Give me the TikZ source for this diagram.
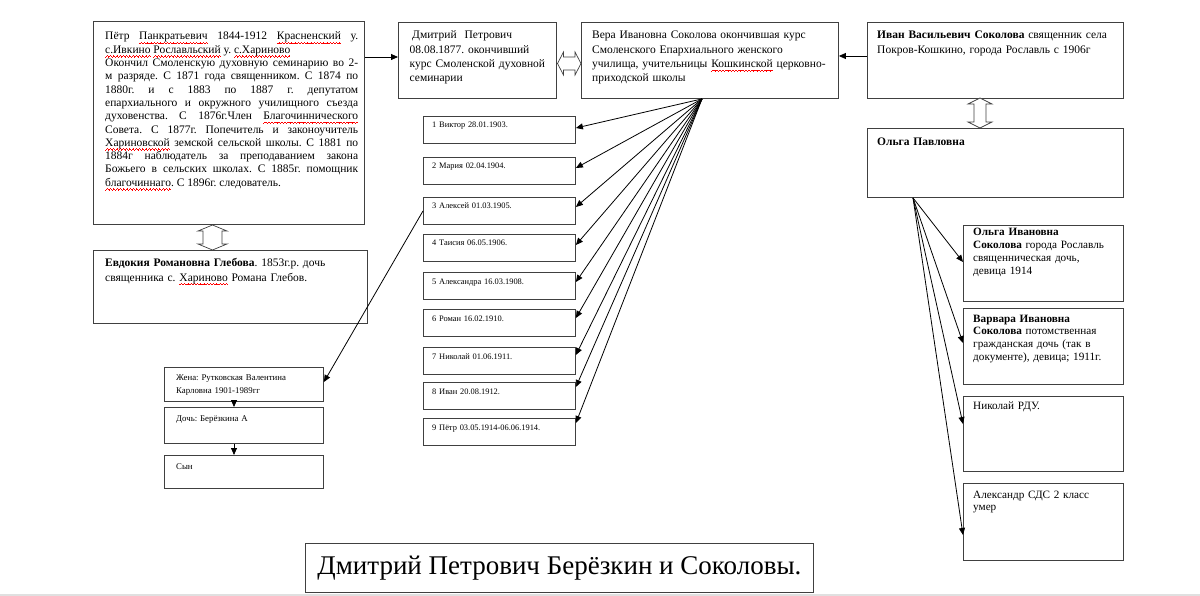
\documentclass[tikz,border=0pt]{standalone}
\usepackage{fontspec}
\setmainfont{Liberation Serif}
\usetikzlibrary{arrows.meta,calc}
\frenchspacing
\newcommand\wavebit{\hbox{\rule[-3.9pt]{0.8pt}{0.6pt}\rule[-3.3pt]{0.8pt}{0.6pt}\rule[-2.7pt]{0.8pt}{0.6pt}\rule[-3.3pt]{0.8pt}{0.6pt}}}
\newcommand\spk[1]{\leavevmode\setbox0\hbox{#1}\rlap{\hbox to \wd0{\color{red}\xleaders\wavebit\hfill}}\box0\relax}
\begin{document}
\begin{tikzpicture}[x=1pt,y=-1pt,
  box/.style={draw=black!75, line width=0.9pt, anchor=north west, inner sep=0pt},
  txt/.style={anchor=base west, inner sep=0pt, align=left},
  big/.style={font=\fontsize{11.5}{13.3}\selectfont},
  mid/.style={font=\fontsize{11.5}{14.3}\selectfont},
  rcol/.style={font=\fontsize{11.2}{12.8}\selectfont},
  small/.style={font=\fontsize{8.4}{10}\selectfont},
  wife/.style={font=\fontsize{8.8}{13}\selectfont},
  arr/.style={-{Triangle[length=7pt,width=6pt]}, line width=0.8pt},
  hol/.style={draw=black!75, fill=white, line width=0.7pt, line join=miter}]
\useasboundingbox (0,0) rectangle (1200,596);
\draw[black!12, line width=1.5pt] (0,595.2) -- (1200,595.2);

% ---- boxes ----
\node[box, minimum width=271pt, minimum height=203pt] (p) at (93,21) {};
\node[box, minimum width=274pt, minimum height=73pt] (e) at (93,250) {};
\node[box, minimum width=158pt, minimum height=76pt] (d) at (398,22) {};
\node[box, minimum width=257pt, minimum height=76pt] (v) at (581,22) {};
\node[box, minimum width=256pt, minimum height=76pt] (iv) at (867,22) {};
\node[box, minimum width=256pt, minimum height=69pt] (op) at (867,128) {};

\node[box, minimum width=152pt, minimum height=27pt] (c1) at (423,116) {};
\node[box, minimum width=152pt, minimum height=27pt] (c2) at (423,157) {};
\node[box, minimum width=152pt, minimum height=27pt] (c3) at (423,197) {};
\node[box, minimum width=152pt, minimum height=27pt] (c4) at (423,234) {};
\node[box, minimum width=152pt, minimum height=27pt] (c5) at (423,272) {};
\node[box, minimum width=152pt, minimum height=27pt] (c6) at (423,309) {};
\node[box, minimum width=152pt, minimum height=27pt] (c7) at (423,347) {};
\node[box, minimum width=152pt, minimum height=27pt] (c8) at (423,382) {};
\node[box, minimum width=152pt, minimum height=27pt] (c9) at (423,418) {};

\node[box, minimum width=159pt, minimum height=34pt] (w) at (164,367) {};
\node[box, minimum width=159pt, minimum height=36pt] (da) at (164,407) {};
\node[box, minimum width=159pt, minimum height=33pt] (so) at (164,455) {};

\node[box, minimum width=160pt, minimum height=76pt] (oi) at (963,225) {};
\node[box, minimum width=160pt, minimum height=76pt] (vi) at (963,308) {};
\node[box, minimum width=160pt, minimum height=75pt] (ni) at (963,396) {};
\node[box, minimum width=160pt, minimum height=77pt] (ai) at (963,483) {};

\node[box, minimum width=508pt, minimum height=49pt] (t) at (305,543) {};

% ---- texts ----
\node[txt, big, text width=253pt, align=justify] (pt) at (105,40) {%
Пётр \spk{Панкратьевич} 1844-1912 \spk{Красненский} у.\linebreak
\spk{с.Ивкино} \spk{Рославльский} у. \spk{с.Хариново}\\
Окончил Смоленскую духовную семинарию во 2-\linebreak
м разряде. С 1871 года священником. С 1874 по\linebreak
1880г. и с 1883 по 1887 г. депутатом\linebreak
епархиального и окружного училищного съезда\linebreak
духовенства. С 1876г.Член \spk{Благочиннического}\linebreak
Совета. С 1877г. Попечитель и законоучитель\linebreak
\spk{Хариновской} земской сельской школы. С 1881 по\linebreak
1884г наблюдатель за преподаванием закона\linebreak
Божьего в сельских школах. С 1885г. помощник\linebreak
\spk{благочиннаго}. С 1896г. следователь.};

\node[txt, big, text width=260pt, font=\fontsize{11.5}{14}\selectfont] (et) at (105,267) {%
\textbf{Евдокия Романовна Глебова}. 1853г.р. дочь\\
священника с. \spk{Хариново} Романа Глебов.};

\node[txt, mid, text width=145pt] (dt) at (409.5,39) {%
\hspace{2.5pt}Дмитрий\hspace{8pt}Петрович\\
08.08.1877. окончивший\\
курс Смоленской духовной\\
семинарии};

\node[txt, mid, text width=245pt] (vt) at (592,39) {%
Вера Ивановна Соколова окончившая курс\\
Смоленского Епархиального женского\\
училища, учительницы \spk{Кошкинской} церковно-\\
приходской школы};

\node[txt, font=\fontsize{11.5}{15}\selectfont, text width=245pt] (ivt) at (877,39) {%
\textbf{Иван Васильевич Соколова} священник села\\
Покров-Кошкино, города Рославль с 1906г};

\node[txt, big, text width=245pt] (opt) at (877,146) {\textbf{Ольга Павловна}};

\node[txt, small, text width=140pt] (c1t) at (432,128) {1 Виктор 28.01.1903.};
\node[txt, small, text width=140pt] (c2t) at (432,169) {2 Мария 02.04.1904.};
\node[txt, small, text width=140pt] (c3t) at (432,209) {3 Алексей 01.03.1905.};
\node[txt, small, text width=140pt] (c4t) at (432,246) {4 Таисия 06.05.1906.};
\node[txt, small, text width=140pt] (c5t) at (432,284) {5 Александра 16.03.1908.};
\node[txt, small, text width=140pt] (c6t) at (432,321) {6 Роман 16.02.1910.};
\node[txt, small, text width=140pt] (c7t) at (432,359) {7 Николай 01.06.1911.};
\node[txt, small, text width=140pt] (c8t) at (432,394) {8 Иван 20.08.1912.};
\node[txt, small, text width=140pt] (c9t) at (432,430) {9 Пётр 03.05.1914-06.06.1914.};

\node[txt, wife, text width=145pt] (wt) at (176,380) {Жена: Рутковская Валентина\\Карловна 1901-1989гг};
\node[txt, wife, text width=145pt] (dat) at (176,421) {Дочь: Берёзкина А};
\node[txt, wife, text width=145pt] (sot) at (176,469) {Сын};

\node[txt, rcol, text width=148pt] (oit) at (973,236) {%
\textbf{Ольга Ивановна}\\
\textbf{Соколова} города Рославль\\
священническая дочь,\\
девица 1914};
\node[txt, rcol, text width=148pt] (vit) at (973,322) {%
\textbf{Варвара Ивановна}\\
\textbf{Соколова} потомственная\\
гражданская дочь (так в\\
документе), девица; 1911г.};
\node[txt, rcol, text width=148pt] (nit) at (973,409) {Николай РДУ.};
\node[txt, rcol, text width=148pt] (ait) at (973,498) {Александр СДС 2 класс\\умер};

\node[inner sep=0pt, font=\fontsize{27}{30}\selectfont] (tt) at (t.center) {Дмитрий Петрович Берёзкин и Соколовы.};

% ---- hollow double arrows ----
\draw[hol] (212.5,225) -- (227,231) -- (222,231) -- (222,244) -- (227,244) -- (212.5,250)
  -- (198,244) -- (203,244) -- (203,231) -- (198,231) -- cycle;
\draw[hol] (557.5,63.5) -- (563.5,52) -- (563.5,57) -- (575,57) -- (575,52) -- (581,63.5)
  -- (575,75) -- (575,70) -- (563.5,70) -- (563.5,75) -- cycle;
\draw[hol] (980,98) -- (992,104) -- (986,104) -- (986,122) -- (992,122) -- (980,128)
  -- (968,122) -- (974,122) -- (974,104) -- (968,104) -- cycle;

% ---- connectors ----
\draw[arr] ([yshift=-36pt]p.north east) -- ([yshift=-35pt]d.north west);
\draw[arr] ([yshift=-34pt]iv.north west) -- ([yshift=-34pt]v.north east);

\coordinate (vs) at ([xshift=121pt]v.south west);
\foreach \i/\o in {1/12,2/11,3/10,4/11,5/10,6/9,7/8,8/5,9/5}
  \draw[arr] (vs) -- ([yshift=-\o pt]c\i.north east);

\draw[arr] (c3.west) -- ([yshift=-15pt]w.north east);
\draw[arr] ([xshift=70pt]w.south west) -- ([xshift=70pt]da.north west);
\draw[arr] ([xshift=70pt]da.south west) -- ([xshift=70pt]so.north west);

\coordinate (os) at ([xshift=46pt]op.south west);
\draw[arr] (os) -- ([yshift=-37pt]oi.north west);
\draw[arr] (os) -- ([yshift=-35pt]vi.north west);
\draw[arr] (os) -- ([yshift=-28pt]ni.north west);
\draw[arr] (os) -- ([yshift=-52pt]ai.north west);
\end{tikzpicture}
\end{document}
